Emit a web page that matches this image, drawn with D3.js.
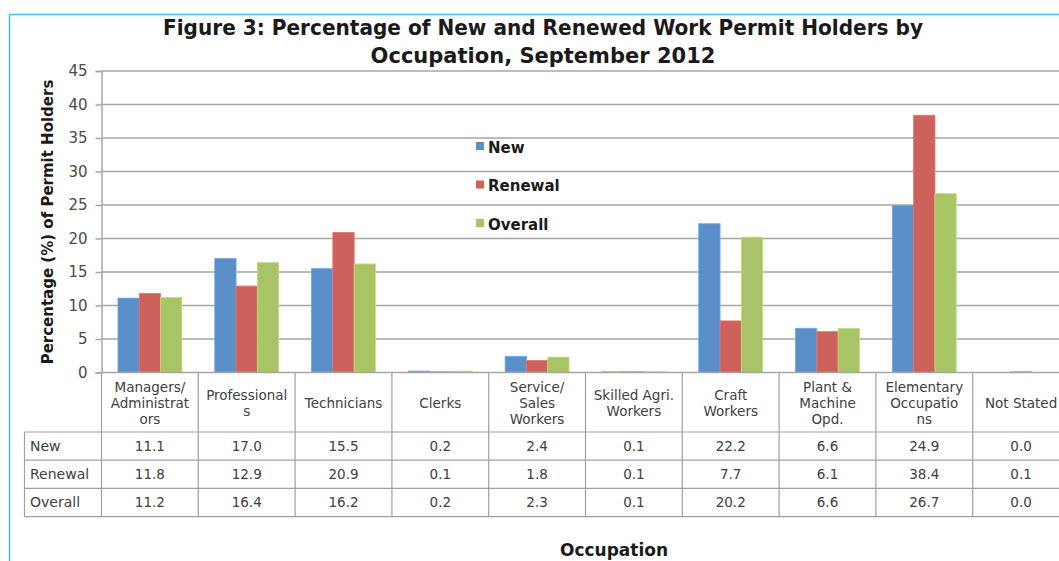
<!DOCTYPE html>
<html>
<head>
<meta charset="utf-8">
<script src="https://cdn.jsdelivr.net/npm/d3@7"></script>
<style>
  body { margin: 0; background: #fff; }
  text { font-family: "DejaVu Sans", sans-serif; }
</style>
</head>
<body>
<script>
var w = 1059;
var h = 561;

// data
var categories = ["Managers", "Professionals", "Technicians", "Clerks", "Service", "Skilled", "Craft", "Plant", "Elementary", "NotStated"];
var catLabels = [
  ["Managers/", "Administrat", "ors"],
  ["Professional", "s"],
  ["Technicians"],
  ["Clerks"],
  ["Service/", "Sales", "Workers"],
  ["Skilled Agri.", "Workers"],
  ["Craft", "Workers"],
  ["Plant &", "Machine", "Opd."],
  ["Elementary", "Occupatio", "ns"],
  ["Not Stated"]
];
var seriesNames = ["New", "Renewal", "Overall"];
var newVals = [11.1, 17.0, 15.5, 0.2, 2.4, 0.1, 22.2, 6.6, 24.9, 0.0];
var renewalVals = [11.8, 12.9, 20.9, 0.1, 1.8, 0.1, 7.7, 6.1, 38.4, 0.1];
var overallVals = [11.2, 16.4, 16.2, 0.2, 2.3, 0.1, 20.2, 6.6, 26.7, 0.0];
var yTicks = [0, 5, 10, 15, 20, 25, 30, 35, 40, 45];
var colors = ["#5b8fca", "#cd625c", "#a8c466"];

var series = [newVals, renewalVals, overallVals];

var svg = d3.select("body").append("svg").attr("width", w).attr("height", h);

// outer frame
svg.append("line").attr("x1", 9.5).attr("y1", 14).attr("x2", 9.5).attr("y2", h)
  .attr("stroke", "#45bde9").attr("stroke-width", 1.5);
svg.append("line").attr("x1", 9).attr("y1", 14.5).attr("x2", w).attr("y2", 14.5)
  .attr("stroke", "#45bde9").attr("stroke-width", 1.5);

var pLeft = 101.5, pRight = 1069.5, pTop = 71, pBottom = 372.5;

var x = d3.scaleBand().domain(categories).range([pLeft, pRight])
  .paddingInner(0.34).paddingOuter(0.17);
var xs = d3.scaleBand().domain(seriesNames).range([0, x.bandwidth()]);
var y = d3.scaleLinear().domain([0, 45]).range([pBottom, pTop]);

// gridlines
svg.append("g").selectAll("line").data(yTicks.slice(1)).join("line")
  .attr("x1", pLeft).attr("x2", pRight)
  .attr("y1", function(d){ return y(d); }).attr("y2", function(d){ return y(d); })
  .attr("stroke", "#a6a6a6").attr("stroke-width", 1.5);

// y axis
var yAxis = svg.append("g").attr("transform", "translate(" + pLeft + ",0)")
  .call(d3.axisLeft(y).tickValues(yTicks).tickSize(6).tickPadding(8));
yAxis.select(".domain").attr("stroke", "#a6a6a6").attr("stroke-width", 1.5);
yAxis.selectAll(".tick line").attr("stroke", "#a6a6a6").attr("stroke-width", 1.5);
yAxis.selectAll("text").attr("font-size", "15px").attr("fill", "#4a4a4a")
  .style("font-family", "DejaVu Sans, sans-serif");

// bars
var gBars = svg.append("g");
series.forEach(function(vals, si){
  gBars.append("g").selectAll("rect").data(vals).join("rect")
    .attr("x", function(d, i){ return x(categories[i]) + xs(seriesNames[si]); })
    .attr("width", xs.bandwidth())
    .attr("y", function(d){ return y(d); })
    .attr("height", function(d){ return pBottom - y(d); })
    .attr("fill", colors[si])
    .attr("stroke", d3.color(colors[si]).brighter(0.4))
    .attr("stroke-width", 0.8);
});

// table
var step = x.step();
var headTop = pBottom, headBot = 432, rowH = 28.2;
var tableLeft = 24.5;
var tbl = svg.append("g");
var gridColor = "#a0a0a0";

// vertical lines at category boundaries
var bounds = d3.range(categories.length + 1).map(function(i){ return pLeft + i * step; });
tbl.selectAll("line.v").data(bounds).join("line").attr("class", "v")
  .attr("x1", function(d){ return d; }).attr("x2", function(d){ return d; })
  .attr("y1", headTop).attr("y2", headBot + rowH * 3)
  .attr("stroke", gridColor).attr("stroke-width", 1.2);
// left box edge for row labels
tbl.append("line").attr("x1", tableLeft).attr("x2", tableLeft)
  .attr("y1", headBot).attr("y2", headBot + rowH * 3)
  .attr("stroke", gridColor).attr("stroke-width", 1.2);
// horizontal lines
var hLines = [headBot, headBot + rowH, headBot + 2 * rowH, headBot + 3 * rowH];
tbl.selectAll("line.h").data(hLines).join("line").attr("class", "h")
  .attr("x1", tableLeft).attr("x2", pRight)
  .attr("y1", function(d){ return d; }).attr("y2", function(d){ return d; })
  .attr("stroke", gridColor).attr("stroke-width", 1.2);
// x axis line
tbl.append("line").attr("x1", pLeft).attr("x2", pRight).attr("y1", pBottom).attr("y2", pBottom)
  .attr("stroke", "#a6a6a6").attr("stroke-width", 1.5);

// category labels
catLabels.forEach(function(lines, i){
  var cx = x(categories[i]) + x.bandwidth() / 2;
  var mid = (headTop + headBot) / 2 + 1;
  var lh = 16;
  var t = tbl.append("text").attr("text-anchor", "middle").attr("font-size", "13.5px").attr("fill", "#404040");
  lines.forEach(function(s, j){
    t.append("tspan").attr("x", cx)
      .attr("y", mid + (j - (lines.length - 1) / 2) * lh + 4.5)
      .text(s);
  });
});

// row labels and values
series.forEach(function(vals, si){
  var cy = headBot + rowH * si + rowH / 2 + 4.5;
  tbl.append("text").attr("x", 30).attr("y", cy).attr("font-size", "14px").attr("fill", "#404040")
    .text(seriesNames[si]);
  tbl.append("g").selectAll("text").data(vals).join("text")
    .attr("x", function(d, i){ return x(categories[i]) + x.bandwidth() / 2; })
    .attr("y", cy)
    .attr("text-anchor", "middle").attr("font-size", "13.5px").attr("fill", "#404040")
    .text(function(d){ return d.toFixed(1); });
});

// legend
var leg = svg.append("g");
seriesNames.forEach(function(s, i){
  var ly = 147 + i * 38.5;
  leg.append("rect").attr("x", 476).attr("y", ly - 5).attr("width", 8).attr("height", 8).attr("fill", colors[i]);
  leg.append("text").attr("x", 488).attr("y", ly + 5.5).attr("font-size", "15px")
    .attr("font-weight", "bold").attr("fill", "#1a1a1a").text(s);
});

// titles
svg.append("text").attr("x", 543).attr("y", 35).attr("text-anchor", "middle")
  .attr("font-size", "21px").attr("font-weight", "bold").attr("fill", "#1a1a1a")
  .text("Figure 3: Percentage of New and Renewed  Work Permit Holders by")
  .attr("textLength", 760).attr("lengthAdjust", "spacingAndGlyphs");
svg.append("text").attr("x", 543).attr("y", 63).attr("text-anchor", "middle")
  .attr("font-size", "21px").attr("font-weight", "bold").attr("fill", "#1a1a1a")
  .text("Occupation, September 2012");
svg.append("text").attr("transform", "translate(53,222) rotate(-90)").attr("text-anchor", "middle")
  .attr("font-size", "15px").attr("font-weight", "bold").attr("fill", "#1a1a1a")
  .text("Percentage (%) of Permit Holders");
svg.append("text").attr("x", 614).attr("y", 556).attr("text-anchor", "middle")
  .attr("font-size", "17px").attr("font-weight", "bold").attr("fill", "#1a1a1a")
  .text("Occupation");
</script>
</body>
</html>
